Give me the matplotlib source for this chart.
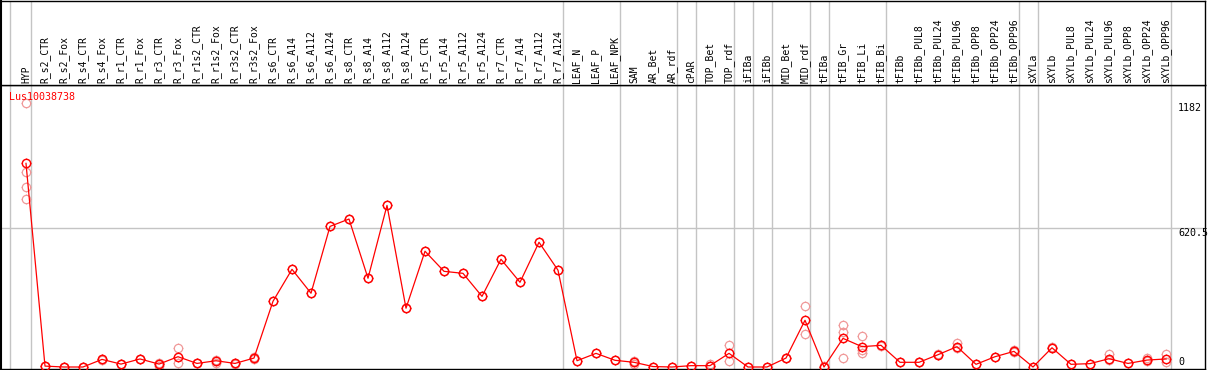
import matplotlib
matplotlib.use("Agg")
import matplotlib.pyplot as plt
from matplotlib.path import Path
import numpy as np

title = "Lus10038738"
categories = [
    "HYP", "R_s2_CTR", "R_s2_Fox", "R_s4_CTR", "R_s4_Fox", "R_r1_CTR", "R_r1_Fox",
    "R_r3_CTR", "R_r3_Fox", "R_r1s2_CTR", "R_r1s2_Fox", "R_r3s2_CTR", "R_r3s2_Fox",
    "R_s6_CTR", "R_s6_A14", "R_s6_A112", "R_s6_A124", "R_s8_CTR", "R_s8_A14",
    "R_s8_A112", "R_s8_A124", "R_r5_CTR", "R_r5_A14", "R_r5_A112", "R_r5_A124",
    "R_r7_CTR", "R_r7_A14", "R_r7_A112", "R_r7_A124", "LEAF_N", "LEAF_P", "LEAF_NPK",
    "SAM", "AR_Bet", "AR_rdf", "cPAR", "TOP_Bet", "TOP_rdf", "iFIBa", "iFIBb",
    "MID_Bet", "MID_rdf", "tFIBa", "tFIB_Gr", "tFIB_Li", "tFIB_Bi", "tFIBb",
    "tFIBb_PUL8", "tFIBb_PUL24", "tFIBb_PUL96", "tFIBb_OPP8", "tFIBb_OPP24",
    "tFIBb_OPP96", "sXYLa", "sXYLb", "sXYLb_PUL8", "sXYLb_PUL24", "sXYLb_PUL96",
    "sXYLb_OPP8", "sXYLb_OPP24", "sXYLb_OPP96",
]
means = [
    911, 4, 0, 0, 34, 13, 36, 13, 46, 16, 28, 16, 40,
    294, 437, 330, 629, 662, 397, 723, 263, 518, 428, 419, 316, 482, 379, 558, 433,
    28, 61, 30, 21, 2, 0, 6, 6, 61, 0, 0, 40, 209, 0, 128, 91, 97,
    21, 21, 55, 91, 12, 46, 70, 0, 86, 12, 15, 37, 16, 31, 36,
]
replicates = [
    [1182, 874, 807, 750], [4, 6], [0, 2], [0, 1], [34, 30], [13, 14], [36, 34],
    [16, 5, 13], [84, 16], [16, 17], [32, 20], [16, 15], [43, 37],
    [294], [437], [330], [629], [662], [397], [723], [263], [518], [428], [419],
    [316], [482], [379], [558], [433],
    [28], [61], [30], [27, 15], [2], [0], [6], [14, 6], [97, 28], [0], [0],
    [40, 42], [272, 146], [0, 3], [188, 155, 39], [139, 76, 64], [100, 95],
    [21], [21, 22], [60, 52], [109, 85], [12], [46], [74, 66], [0], [90, 84],
    [12], [15], [57, 30], [16], [42, 25], [58, 22],
]
# group separator positions (between categories)
separators = [-0.84, 0.25, 28.25, 31.25, 34.25, 35.25, 37.25, 38.25, 39.25,
              41.25, 42.25, 45.25, 52.25, 53.25, 60.25]
ytick_vals = [1182, 620.5, 0]
ytick_labels = ["1182", "620.5", "0"]

W, H = 1209, 370
fig = plt.figure(figsize=(W / 100, H / 100), dpi=100)
FONT = "DejaVu Sans Mono"
GREY = "#c4c4c4"

xlim = (-25 / 19, 1179 / 19)
ax = fig.add_axes([1 / W, 1 / H, 1204 / W, 284 / H])
hx = fig.add_axes([1 / W, 285 / H, 1204 / W, 84.5 / H])

# four short ticks around the circle marker
R_OUT = 1.3
tick_verts = [(0, 1), (0, R_OUT), (0, -1), (0, -R_OUT), (1, 0), (R_OUT, 0), (-1, 0), (-R_OUT, 0)]
tick_codes = [Path.MOVETO, Path.LINETO] * 4
ticks = Path(tick_verts, tick_codes)
CIRC_MS = 6.0
TICK_MS = CIRC_MS * R_OUT

x = np.arange(len(categories))
ax.set_xlim(*xlim)
ax.set_ylim(-8.95, 1261.6)
for s in separators:
    ax.axvline(s, color=GREY, lw=1.0, zorder=1)
    hx.axvline(s, color=GREY, lw=1.0, zorder=1)
ax.axhline(620.5, color=GREY, lw=1.0, zorder=1)

rx, ry = [], []
for i, reps in enumerate(replicates):
    for v in reps:
        rx.append(i)
        ry.append(v)
REP = "#f09898"
RED = "#ff0000"
for mk, ms, mew in (("o", CIRC_MS, 0.9), (ticks, TICK_MS, 0.6)):
    ax.plot(rx, ry, linestyle="none", marker=mk, markersize=ms,
            markerfacecolor="none", markeredgecolor=REP, markeredgewidth=mew,
            zorder=2, clip_on=False)
ax.plot(x, means, color=RED, lw=0.9, zorder=3)
for mk, ms, mew in (("o", CIRC_MS, 1.05), (ticks, TICK_MS, 0.6)):
    ax.plot(x, means, linestyle="none", marker=mk, markersize=ms,
            markerfacecolor="none", markeredgecolor=RED, markeredgewidth=mew,
            zorder=4, clip_on=False)

ax.set_xticks([])
ax.set_yticks([])
for sp in ax.spines.values():
    sp.set_color("black")
    sp.set_linewidth(1.0)
ax.spines["left"].set_linewidth(1.5)

ax.text(-0.895, 1208, title, color=RED, fontsize=7.2, family=FONT,
        ha="left", va="center", zorder=5)
for v, lab in zip(ytick_vals, ytick_labels):
    ax.text((1178 - 26) / 19, v, lab, fontsize=7.2, family=FONT, color="black",
            ha="left", va="bottom" if v == 0 else "top", zorder=5)

hx.set_xlim(*xlim)
hx.set_ylim(85, 0)
hx.set_xticks([])
hx.set_yticks([])
for sp in hx.spines.values():
    sp.set_color("black")
    sp.set_linewidth(1.0)
hx.spines["left"].set_linewidth(1.5)
for i, lab in enumerate(categories):
    hx.text(i, 83, lab, rotation=90, fontsize=7, family=FONT, color="black",
            ha="center", va="bottom")

fig.savefig("out.png", dpi=100)
